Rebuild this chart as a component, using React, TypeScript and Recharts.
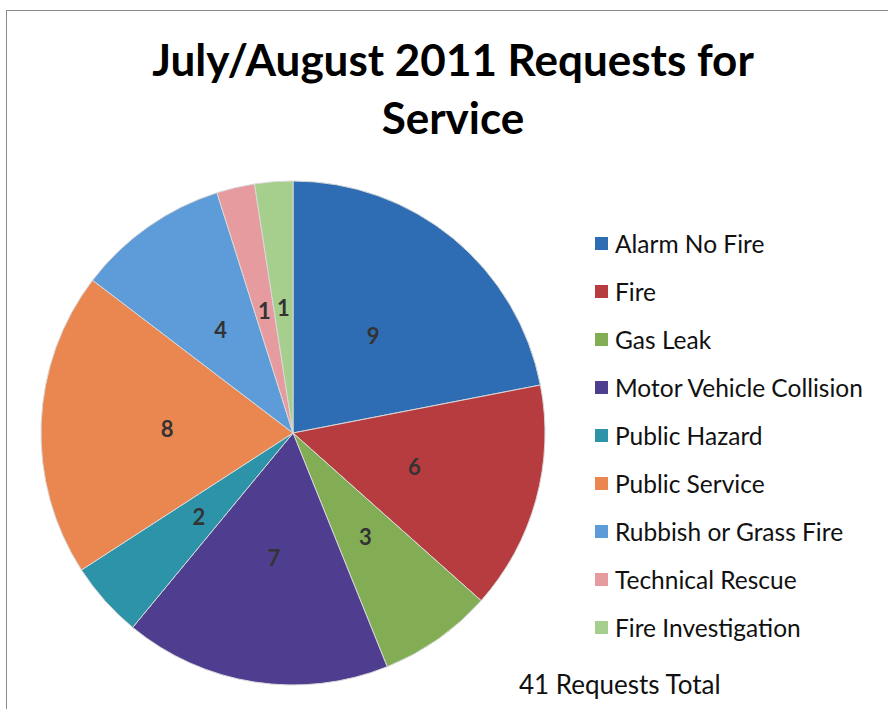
import { PieChart, Pie, Cell, Legend } from 'recharts';

const categories = [
  'Alarm No Fire', 'Fire', 'Gas Leak', 'Motor Vehicle Collision', 'Public Hazard',
  'Public Service', 'Rubbish or Grass Fire', 'Technical Rescue', 'Fire Investigation',
];
const counts = [9, 6, 3, 7, 2, 8, 4, 1, 1];
const colors = [
  '#2E6CB4', '#B63C40', '#82AD55', '#4F3E8F', '#2D93A9',
  '#EA8650', '#5E9BD9', '#E69B9E', '#A6CF8D',
];

const data = categories.map((name, i) => ({ name, value: counts[i] }));
const total = counts.reduce((a, b) => a + b, 0);

const RAD = Math.PI / 180;

// value labels sit about halfway out along each slice's mid angle
const renderLabel = (p: any) => {
  const r = p.outerRadius * 0.5;
  const x = p.cx + r * Math.cos(-p.midAngle * RAD);
  const y = p.cy + r * Math.sin(-p.midAngle * RAD);
  return (
    <text x={x} y={y} textAnchor="middle" dominantBaseline="central"
      fontFamily="Lato, sans-serif" fontSize={22} fontWeight={700} fill="#333">
      {p.value}
    </text>
  );
};

const LegendList = () => (
  <div style={{ fontFamily: 'Lato, sans-serif', fontSize: 24.5, color: '#111' }}>
    {data.map((d, i) => (
      <div key={d.name} style={{ display: 'flex', alignItems: 'center', height: 48, whiteSpace: 'nowrap' }}>
        <span style={{ width: 13, height: 13, background: colors[i], marginRight: 7, flexShrink: 0 }} />
        {d.name}
      </div>
    ))}
  </div>
);

export default function App() {
  return (
    <div style={{ position: 'absolute', left: 0, top: 0, width: 888, height: 709, background: '#fff', overflow: 'hidden' }}>
      <div style={{
        position: 'absolute', left: 6, top: 10, width: 890, height: 700,
        border: '1.5px solid #8a8a8a', boxSizing: 'border-box',
      }} />
      <div style={{
        position: 'absolute', left: 0, top: 30, width: 906, textAlign: 'center',
        fontFamily: 'Lato, sans-serif', fontWeight: 700, fontSize: 44, lineHeight: '58px', color: '#000',
      }}>
        July/August 2011 Requests for<br />Service
      </div>
      <PieChart width={888} height={709} style={{ position: 'absolute', left: 0, top: 0 }}>
        <Pie data={data} dataKey="value" nameKey="name" cx={288} cy={428} outerRadius={252}
          startAngle={90} endAngle={-270} stroke="#d8d8d8" strokeWidth={1}
          label={renderLabel} labelLine={false} isAnimationActive={false}>
          {data.map((_, i) => <Cell key={i} fill={colors[i]} />)}
        </Pie>
        <Legend layout="vertical" content={<LegendList />}
          wrapperStyle={{ left: 595, top: 219, width: 290 }} />
      </PieChart>
      <div style={{
        position: 'absolute', left: 519, top: 668, fontFamily: 'Lato, sans-serif', fontSize: 26, color: '#111',
      }}>
        {total} Requests Total
      </div>
    </div>
  );
}
